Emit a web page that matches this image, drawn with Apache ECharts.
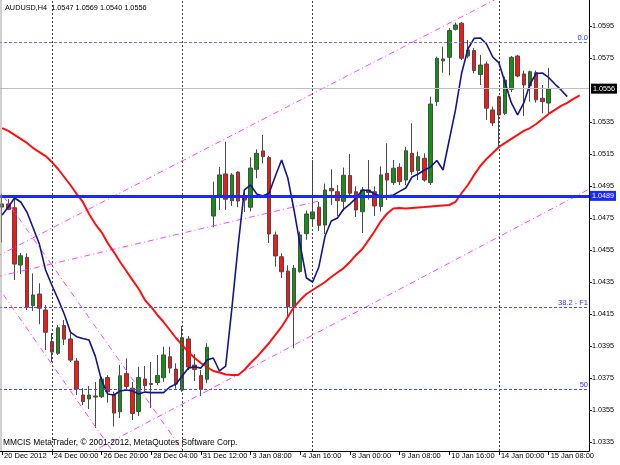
<!DOCTYPE html>
<html><head><meta charset="utf-8">
<script src="https://cdn.jsdelivr.net/npm/echarts/dist/echarts.min.js"></script>
<style>html,body{margin:0;padding:0;background:#fff}#chart{width:620px;height:465px}</style>
</head><body><div id="chart"></div>
<script>
const headerText = 'AUDUSD,H4  1.0547 1.0569 1.0540 1.0556';
const copyrightText = 'MMCIS MetaTrader, \u00a9 2001-2012, MetaQuotes Software Corp.';
const xTickLabels = ['20 Dec 2012','24 Dec 00:00','26 Dec 20:00','28 Dec 04:00','31 Dec 12:00','3 Jan 08:00','4 Jan 16:00','8 Jan 00:00','9 Jan 08:00','10 Jan 16:00','14 Jan 00:00','15 Jan 08:00'];
const yTickValues = [1.0335,1.0355,1.0375,1.0395,1.0415,1.0435,1.0455,1.0475,1.0495,1.0515,1.0535,1.0575,1.0595];

const opens = [1.0482,1.0484,1.04816,1.04458,1.04506,1.04204,1.04277,1.04177,1.03979,1.03906,
1.0408,1.03996,1.03858,1.03646,1.03621,1.0364,1.03635,1.03755,1.03646,1.03541,
1.03781,1.03688,1.03543,1.03746,1.03718,1.03724,1.03754,1.03885,1.03808,1.03677,
1.03996,1.03833,1.03767,1.03744,1.04764,1.04896,1.05027,1.0486,1.05039,1.04886,
1.04819,1.05056,1.05171,1.05129,1.04646,1.0451,1.0442,1.04198,1.04417,1.04654,
1.04747,1.04819,1.04708,1.04937,1.04916,1.04856,1.05018,1.04916,1.04791,1.04927,
1.04916,1.04823,1.05031,1.04973,1.05069,1.04989,1.05156,1.05048,1.05125,1.04973,
1.05479,1.05733,1.05756,1.05931,1.05969,1.05764,1.05798,1.05649,1.05714,1.05427,
1.0551,1.05406,1.05556,1.05764,1.05652,1.05577,1.0566,1.055,1.0547];
const highs = [1.0490,1.0487,1.04871,1.04533,1.04531,1.04406,1.04344,1.04208,1.04033,1.04083,
1.04114,1.04033,1.03877,1.03689,1.03702,1.03727,1.0376,1.0377,1.03666,1.03834,
1.03875,1.03727,1.03822,1.03827,1.03852,1.03896,1.03948,1.03948,1.03844,1.04077,
1.04015,1.03902,1.03802,1.03969,1.04979,1.05071,1.05229,1.05033,1.05043,1.04914,
1.05131,1.05181,1.05271,1.0514,1.04667,1.04531,1.04456,1.04458,1.04667,1.04799,
1.05114,1.04852,1.04967,1.05056,1.04957,1.05067,1.05152,1.0495,1.04946,1.05114,
1.0495,1.05074,1.05219,1.05114,1.05094,1.05197,1.05344,1.05167,1.05156,1.0551,
1.0576,1.05822,1.05938,1.05973,1.05977,1.05864,1.05814,1.05771,1.05729,1.05448,
1.05515,1.05635,1.05764,1.05771,1.05673,1.05673,1.05673,1.05583,1.0569];
const lows = [1.0460,1.0480,1.04364,1.04402,1.04177,1.04171,1.04088,1.03927,1.03852,1.03896,
1.03958,1.03852,1.03646,1.03583,1.03558,1.0344,1.03627,1.03598,1.03449,1.03502,
1.03677,1.0349,1.03514,1.03671,1.03564,1.03708,1.03729,1.03781,1.03685,1.03666,
1.03802,1.03733,1.03639,1.03719,1.04694,1.04802,1.04802,1.04827,1.0482,1.04789,
1.04794,1.05,1.05094,1.04596,1.04448,1.04377,1.04136,1.03938,1.0441,1.04616,
1.04708,1.04671,1.04652,1.04833,1.04764,1.04796,1.04889,1.04758,1.04658,1.04867,
1.04764,1.04792,1.04864,1.04958,1.04958,1.04958,1.05021,1.04989,1.04979,1.04958,
1.05452,1.0566,1.05644,1.05923,1.05739,1.0575,1.05656,1.05583,1.05364,1.05327,
1.05198,1.05396,1.05539,1.05631,1.0539,1.05479,1.05473,1.05406,1.0540];
const closes = [1.0484,1.04806,1.04464,1.04516,1.04194,1.04271,1.04188,1.04038,1.03914,1.04066,
1.03995,1.03864,1.03683,1.03605,1.03646,1.03633,1.03746,1.03666,1.03533,1.03766,
1.03699,1.03531,1.03755,1.03704,1.03712,1.03768,1.03896,1.03814,1.03714,1.04004,
1.03821,1.03805,1.03681,1.03944,1.04885,1.05021,1.04869,1.05021,1.04858,1.04864,
1.05064,1.05156,1.05135,1.04652,1.04515,1.04416,1.04199,1.04438,1.04646,1.04777,
1.0479,1.04706,1.04927,1.04922,1.0486,1.05019,1.04907,1.04802,1.04927,1.04911,
1.04827,1.05021,1.04989,1.05063,1.04979,1.05172,1.05041,1.05135,1.04989,1.05464,
1.0575,1.05746,1.05923,1.05958,1.0575,1.05802,1.05673,1.05708,1.05438,1.05346,
1.05396,1.05614,1.05756,1.05639,1.05583,1.05666,1.0549,1.05479,1.0556];

// slow moving average (red), shifted forward beyond the last bar
const maSlow = [1.05314,1.05296,1.05271,1.05246,1.05221,1.05189,1.05164,1.05139,1.05102,1.05058,
1.05008,1.04958,1.04902,1.04852,1.04777,1.04714,1.04664,1.04596,1.04539,1.04477,
1.04421,1.04364,1.04308,1.04239,1.04196,1.04146,1.04102,1.04052,1.04002,1.03958,
1.03914,1.03877,1.03846,1.03821,1.03796,1.03786,1.03774,1.03771,1.03771,1.03802,
1.03846,1.03883,1.03927,1.03971,1.04021,1.04071,1.04133,1.04196,1.04239,1.04277,
1.04302,1.04327,1.04352,1.04383,1.04411,1.04439,1.04477,1.04521,1.04558,1.04614,
1.04671,1.04733,1.0478,1.04811,1.04814,1.04811,1.04814,1.04817,1.0482,1.04824,
1.04827,1.0483,1.04833,1.04852,1.04908,1.04958,1.05021,1.05077,1.05121,1.05158,
1.05196,1.05221,1.05246,1.05271,1.05296,1.05314,1.05339,1.05371,1.05402,1.05427,
1.05452,1.05471,1.05496,1.05518];
// fast moving average (navy)
const maFast = [1.04771,1.04821,1.04877,1.04852,1.04789,1.04689,1.04589,1.04427,1.04333,1.04246,
1.04152,1.04039,1.0401,1.03999,1.03989,1.03889,1.03739,1.03652,1.03646,1.03671,
1.03677,1.03671,1.03652,1.03664,1.03661,1.03661,1.03661,1.03696,1.03714,1.03764,
1.03814,1.03822,1.03814,1.03864,1.03877,1.03796,1.03827,1.04189,1.04577,1.04927,
1.04958,1.04902,1.04889,1.04908,1.05014,1.05114,1.05002,1.04802,1.04583,1.04377,
1.04352,1.04446,1.04639,1.04733,1.04752,1.04808,1.04839,1.04877,1.04927,1.04924,
1.04902,1.04889,1.04889,1.04896,1.04918,1.04939,1.05008,1.05027,1.05052,1.05071,
1.05111,1.05052,1.05239,1.05427,1.05658,1.05808,1.05874,1.05877,1.05839,1.05758,
1.05721,1.05596,1.05471,1.05396,1.05471,1.05589,1.05655,1.05658,1.0563,1.05589,
1.05552,1.0551];

const fibNames = ['0.0', '38.2 - F1', '50'];
const fibPrices = [1.05848, 1.04193, 1.03680];
const levelPrice = 1.0489;
const lastPrice = 1.0556;
const weekStartBars = [8, 29, 50, 80];
// trend lines: pairs of [bar index, price]
const trendUpperChannel = [[-1, 1.04508], [85, 1.06229]];
const trendLowerChannel = [[12, 1.03241], [95, 1.04942]];
const trendShallow = [[-1, 1.04383], [51, 1.04858]];
const trendDownUpper = [[-1, 1.04954], [30, 1.03249]];
const trendDownLower = [[-1, 1.0434], [18, 1.03282]];
const slotCount = 95;
const priceMin = 1.03296, priceMax = 1.06114;

const FONT = '"Liberation Sans", Arial, sans-serif';
const categories = Array.from({length: slotCount}, (_, i) => 'b' + i);
const candleData = opens.map((o, i) => [o, closes[i], lows[i], highs[i]]);
const trendStyle = {color: '#ff44ff', width: 1, type: [6, 3, 1, 3]};
function trendSeries(name, pts) {
  return {type: 'line', name, data: pts, symbol: 'none', silent: true, z: 3,
    lineStyle: trendStyle, clip: true, animation: false};
}

const chart = echarts.init(document.getElementById('chart'), null, {renderer: 'canvas'});
chart.setOption({
  animation: false,
  backgroundColor: '#ffffff',
  textStyle: {fontFamily: FONT},
  title: [
    {text: headerText, left: 5, top: 4, padding: 0, textStyle: {fontSize: 7.3, fontWeight: 'normal', color: '#000', fontFamily: FONT}},
    {text: copyrightText, left: 3, top: 439, padding: 0, textStyle: {fontSize: 8.4, fontWeight: 'normal', color: '#000', fontFamily: FONT}}
  ],
  grid: {left: -1, right: 31, top: 0, bottom: 14, containLabel: false, outerBoundsMode: 'none'},
  graphic: [{type: 'line', shape: {x1: 1, y1: 0, x2: 1, y2: 451}, style: {stroke: '#a0a0a0', lineWidth: 1}, z: 10}],
  xAxis: {
    type: 'category', data: categories, boundaryGap: true,
    axisLine: {show: true, lineStyle: {color: '#000', width: 1}},
    axisTick: {show: true, interval: 7, alignWithLabel: true, length: 4, lineStyle: {color: '#000'}},
    axisLabel: {interval: 7, align: 'left', margin: 1, padding: [0, 0, 0, 2], fontSize: 7.5, color: '#000', fontFamily: FONT,
      formatter: (v, idx) => xTickLabels[idx / 8] || ''},
    splitLine: {show: false}
  },
  yAxis: {
    type: 'value', position: 'right', min: priceMin, max: priceMax,
    axisLine: {show: true, lineStyle: {color: '#000', width: 1}},
    axisTick: {show: true, length: 3, customValues: yTickValues, lineStyle: {color: '#000'}},
    axisLabel: {customValues: yTickValues, formatter: v => v.toFixed(4), fontSize: 7.2, margin: 3, color: '#000', fontFamily: FONT},
    splitLine: {show: false}
  },
  series: [
    {
      type: 'candlestick', name: 'AUDUSD', data: candleData, barWidth: 4, z: 2,
      itemStyle: {color: '#109410', color0: '#ff1414', borderColor: '#4a4a4a', borderColor0: '#4a4a4a', borderWidth: 1},
      markLine: {
        silent: true, symbol: 'none', animation: false,
        lineStyle: {color: '#404040', width: 1, type: [2, 2]},
        label: {show: false},
        data: weekStartBars.map(b => ({xAxis: b}))
      }
    },
    trendSeries('upper channel', trendUpperChannel),
    trendSeries('lower channel', trendLowerChannel),
    trendSeries('shallow trend', trendShallow),
    trendSeries('down channel upper', trendDownUpper),
    trendSeries('down channel lower', trendDownLower),
    {
      type: 'line', name: 'MA slow', data: maSlow, symbol: 'none', z: 4, silent: true,
      lineStyle: {color: '#ff1010', width: 2},
      markLine: {
        silent: true, symbol: 'none', animation: false, z: 6, precision: 6,
        lineStyle: {color: '#5a5aff', width: 1, type: [3, 2]},
        data: fibPrices.map((p, i) => ({
          yAxis: p,
          lineStyle: {color: i === 0 ? '#7070ff' : '#4a4aff', width: 1, type: [3, 2]},
          label: {show: true, position: 'insideEndTop', distance: 1, formatter: fibNames[i], color: '#3030ff', fontSize: 7.5, fontFamily: FONT}
        }))
      }
    },
    {
      type: 'line', name: 'MA fast', data: maFast, symbol: 'none', z: 5, silent: true,
      lineStyle: {color: '#14148c', width: 1.6},
      markLine: {
        silent: true, symbol: 'none', animation: false, z: 7, precision: 6,
        data: [
          {yAxis: lastPrice, lineStyle: {color: '#c0c0c0', width: 1, type: 'solid'},
           label: {show: true, position: 'end', distance: 2, formatter: lastPrice.toFixed(4), color: '#fff', backgroundColor: '#000', padding: [2, 2, 1, 2], fontSize: 7.2, fontFamily: FONT}},
          {yAxis: levelPrice, lineStyle: {color: '#1a2aff', width: 3, type: 'solid'},
           label: {show: true, position: 'end', distance: 1, formatter: levelPrice.toFixed(4), color: '#fff', backgroundColor: '#1a2aff', padding: [2, 2, 1, 2], fontSize: 7.2, fontFamily: FONT}}
        ]
      }
    }
  ]
});
</script>
</body></html>
